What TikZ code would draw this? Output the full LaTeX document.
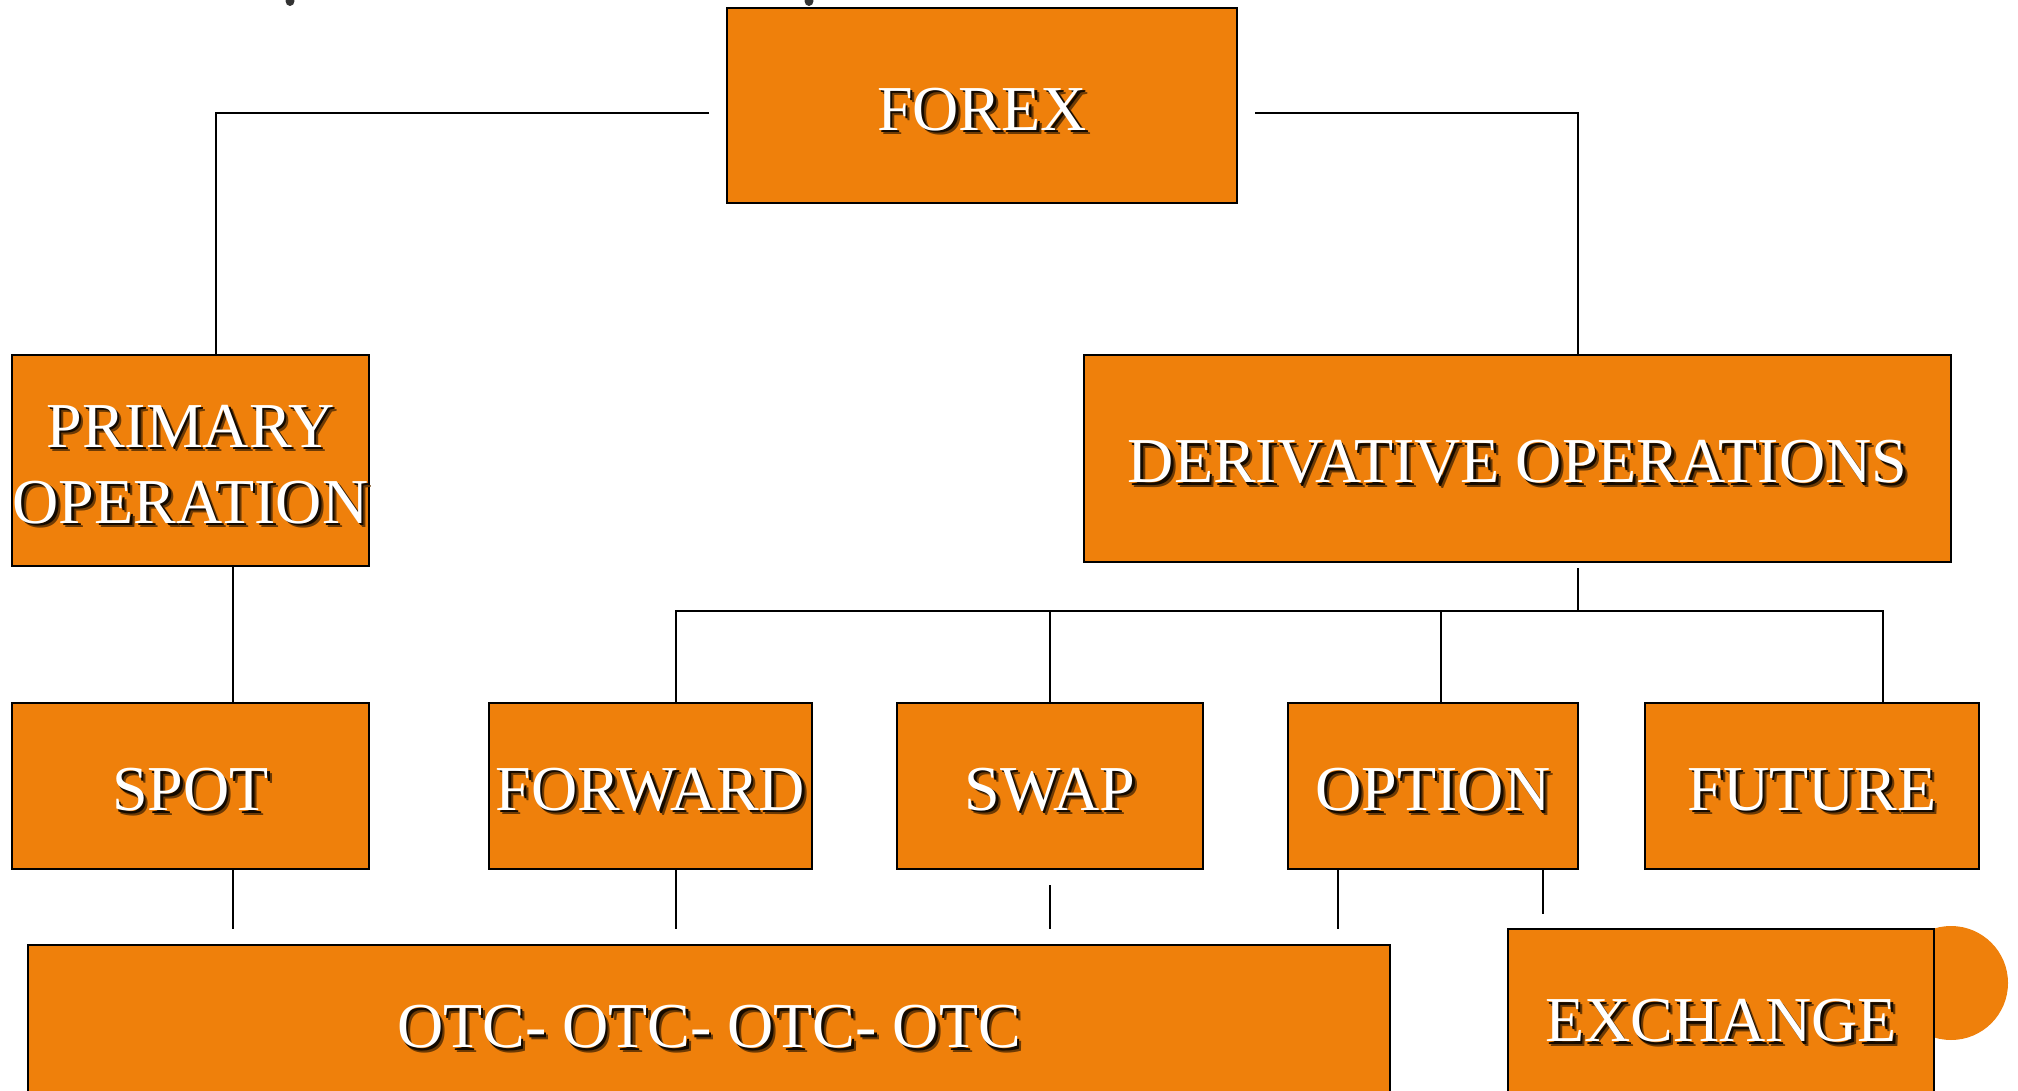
\documentclass[tikz,border=0pt]{standalone}
\usepackage{fontspec}
\setmainfont{Liberation Serif}
\usetikzlibrary{calc}
\definecolor{orng}{RGB}{239,128,11}
\definecolor{shad}{RGB}{20,10,0}
\newcommand\shtext[1]{\raisebox{-6pt}[\height][\depth]{{\color{orng!45!black}\rlap{\hspace{4.5pt}\raisebox{-4.5pt}{#1}}}{\color{shad}\rlap{\hspace{2.5pt}\raisebox{-2.5pt}{#1}}}{\color{white}#1}}}
\tikzset{
  box/.style={draw=black, line width=2pt, fill=orng, inner sep=0pt, outer sep=0pt,
    minimum height=166pt, align=center, font=\fontsize{64pt}{76pt}\selectfont},
  conn/.style={draw=black, line width=1.6pt}
}
\begin{document}
\begin{tikzpicture}[x=1pt,y=-1pt]
\clip (0,0) rectangle (2018,1091);
\fill[white] (0,0) rectangle (2018,1091);
% cut-off marks at top
\fill[black!80] (290,1) ellipse (4.5pt and 5pt);
\fill[black!80] (809,1) ellipse (4.5pt and 5pt);
% decorative circle behind exchange
\fill[orng] (1951,983) circle (57pt);
% nodes
\node[box, minimum width=510pt, minimum height=195pt] (forex) at (982,105.5) {\shtext{FOREX}};
\node[box, minimum width=357pt, minimum height=211pt] (primary) at (190.5,460.5) {\shtext{PRIMARY}\\\shtext{OPERATION}};
\node[box, minimum width=867pt, minimum height=207pt] (deriv) at (1517.5,458.5) {\shtext{DERIVATIVE OPERATIONS}};
\node[box, minimum width=357pt] (spot) at (190.5,786) {\shtext{SPOT}};
\node[box, minimum width=323pt] (forward) at (650.5,786) {\shtext{FORWARD}};
\node[box, minimum width=306pt] (swap) at (1050,786) {\shtext{SWAP}};
\node[box, minimum width=290pt] (option) at (1433,786) {\shtext{OPTION}};
\node[box, minimum width=334pt] (future) at (1812,786) {\shtext{FUTURE}};
\node[box, minimum width=1362pt, minimum height=156pt] (otc) at (709,1023) {\shtext{OTC- OTC- OTC- OTC}};
\node[box, minimum width=426pt, minimum height=176pt] (exchange) at (1721,1017) {\shtext{EXCHANGE}};
% connectors
\draw[conn] ($(forex.west)+(-18,7.5)$) -| ($(primary.north)+(25.5,0)$);
\draw[conn] ($(forex.east)+(18,7.5)$) -| ($(deriv.north)+(60.5,0)$);
\draw[conn] ($(primary.south)+(42.5,0)$) -- ($(spot.north)+(42.5,0)$);
\draw[conn] ($(deriv.south)+(60.5,6)$) -- ($(deriv.south)+(60.5,49)$);
\draw[conn] ($(forward.north)+(25.5,0)$) |- ($(future.north)+(71,-92)$) -- ($(future.north)+(71,0)$);
\draw[conn] (swap.north) -- ($(swap.north)+(0,-92)$);
\draw[conn] ($(option.north)+(8,0)$) -- ($(option.north)+(8,-92)$);
\draw[conn] ($(spot.south)+(42.5,0)$) -- ($(spot.south)+(42.5,60)$);
\draw[conn] ($(forward.south)+(25.5,0)$) -- ($(forward.south)+(25.5,60)$);
\draw[conn] ($(swap.south)+(0,16)$) -- ($(swap.south)+(0,60)$);
\draw[conn] ($(option.south)+(-95,0)$) -- ($(option.south)+(-95,60)$);
\draw[conn] ($(option.south)+(110,0)$) -- ($(option.south)+(110,45)$);
\draw[conn] ($(future.south)+(54,0)$) -- ($(future.south)+(54,0)$ |- exchange.north);
\end{tikzpicture}
\end{document}
